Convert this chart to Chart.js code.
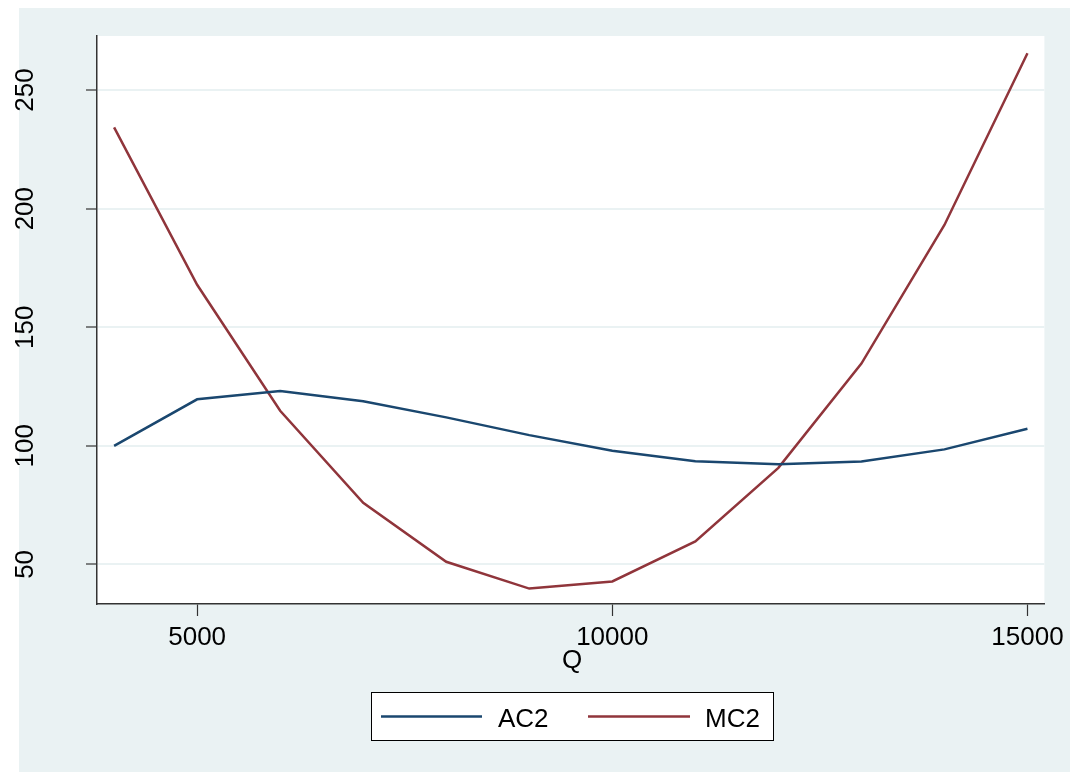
<!DOCTYPE html>
<html>
<head>
<meta charset="utf-8">
<script src="https://cdn.jsdelivr.net/npm/chart.js@4.4.1/dist/chart.umd.min.js"></script>
<style>
  html, body { margin: 0; padding: 0; background: #fff; }
  #wrap { width: 1070px; height: 772px; position: relative; }
</style>
</head>
<body>
<div id="wrap"><canvas id="costChart" width="1070" height="772"></canvas></div>
<script>
// quantity on the x axis
const Q = [4000, 5000, 6000, 7000, 8000, 9000, 10000, 11000, 12000, 13000, 14000, 15000];

// average and marginal cost
const AC2 = [100, 119.6, 123.1, 118.8, 112.0, 104.5, 97.9, 93.5, 92.2, 93.4, 98.5, 107.2];
const MC2 = [234.3, 167.9, 114.8, 76.0, 51.1, 39.8, 42.8, 59.7, 90.7, 134.7, 193.1, 265.5];

const X_TICKS = [5000, 10000, 15000];
const Y_TICKS = [50, 100, 150, 200, 250];

const SERIES_NAMES = ['AC2', 'MC2'];
const COLORS = ['#1a476f', '#90353b'];

const BG = '#eaf2f3';
const FONT = '"Liberation Sans", Arial, sans-serif';

// background, y labels, axis title and the boxed legend
const stataLook = {
    id: 'stataLook',
    beforeDraw(chart) {
        const ctx = chart.ctx;
        const a = chart.chartArea;
        ctx.save();
        ctx.fillStyle = '#fff';
        ctx.fillRect(0, 0, chart.width, chart.height);
        ctx.fillStyle = BG;
        ctx.fillRect(19, 8, chart.width - 19, chart.height - 8);
        ctx.fillStyle = '#fff';
        ctx.fillRect(a.left, a.top, a.right - a.left, a.bottom - a.top);
        ctx.restore();
    },
    afterDraw(chart) {
        const ctx = chart.ctx;
        const y = chart.scales.y;
        ctx.save();
        ctx.fillStyle = '#000';
        ctx.font = '26px ' + FONT;

        // rotated y tick labels
        Y_TICKS.forEach(v => {
            const py = y.getPixelForValue(v);
            ctx.save();
            ctx.translate(33, py);
            ctx.rotate(-Math.PI / 2);
            ctx.textAlign = 'center';
            ctx.textBaseline = 'alphabetic';
            ctx.fillText(String(v), 0, 0);
            ctx.restore();
        });

        // x axis title
        ctx.textAlign = 'center';
        ctx.textBaseline = 'alphabetic';
        ctx.fillText('Q', 572, 668);

        // legend box
        ctx.fillStyle = '#fff';
        ctx.fillRect(371, 692, 403, 49);
        ctx.strokeStyle = '#000';
        ctx.lineWidth = 1;
        ctx.strokeRect(371.5, 692.5, 402, 48);

        const items = [
            { x0: 381, x1: 482, tx: 498 },
            { x0: 588, x1: 690, tx: 705 }
        ];
        chart.data.datasets.forEach((ds, i) => {
            const it = items[i];
            ctx.strokeStyle = ds.borderColor;
            ctx.lineWidth = 2.5;
            ctx.beginPath();
            ctx.moveTo(it.x0, 716.5);
            ctx.lineTo(it.x1, 716.5);
            ctx.stroke();
            ctx.fillStyle = '#000';
            ctx.textAlign = 'left';
            ctx.fillText(ds.label, it.tx, 727);
        });
        ctx.restore();
    }
};

const ctx = document.getElementById('costChart').getContext('2d');
new Chart(ctx, {
    type: 'line',
    data: {
        datasets: [
            {
                label: SERIES_NAMES[0],
                data: Q.map((q, i) => ({ x: q, y: AC2[i] })),
                borderColor: COLORS[0],
                borderWidth: 2.5,
                pointRadius: 0,
                fill: false,
                tension: 0
            },
            {
                label: SERIES_NAMES[1],
                data: Q.map((q, i) => ({ x: q, y: MC2[i] })),
                borderColor: COLORS[1],
                borderWidth: 2.5,
                pointRadius: 0,
                fill: false,
                tension: 0
            }
        ]
    },
    options: {
        responsive: false,
        animation: false,
        events: [],
        layout: { padding: { left: 97, top: 36, right: 22, bottom: 0 } },
        plugins: {
            legend: { display: false },
            tooltip: { enabled: false }
        },
        scales: {
            x: {
                type: 'linear',
                position: 'bottom',
                min: 3794,
                max: 15204,
                afterBuildTicks: s => { s.ticks = X_TICKS.map(v => ({ value: v })); },
                afterFit: s => { s.height = 168; },
                grid: { drawOnChartArea: false, drawTicks: true, tickLength: 12, tickColor: '#333', tickWidth: 1.2 },
                border: { display: true, color: '#333', width: 1.5 },
                ticks: {
                    color: '#000',
                    padding: 6,
                    maxRotation: 0,
                    autoSkip: false,
                    font: { family: FONT, size: 26 },
                    callback: v => String(v)
                }
            },
            y: {
                type: 'linear',
                position: 'left',
                min: 33.3,
                max: 272.8,
                afterBuildTicks: s => { s.ticks = Y_TICKS.map(v => ({ value: v })); },
                afterFit: s => { s.width = 0; },
                grid: { color: BG, lineWidth: 2, drawTicks: true, tickLength: 11, tickColor: '#333', tickWidth: 1.2 },
                border: { display: true, color: '#333', width: 1.5 },
                ticks: { display: false }
            }
        }
    },
    plugins: [stataLook]
});
</script>
</body>
</html>
